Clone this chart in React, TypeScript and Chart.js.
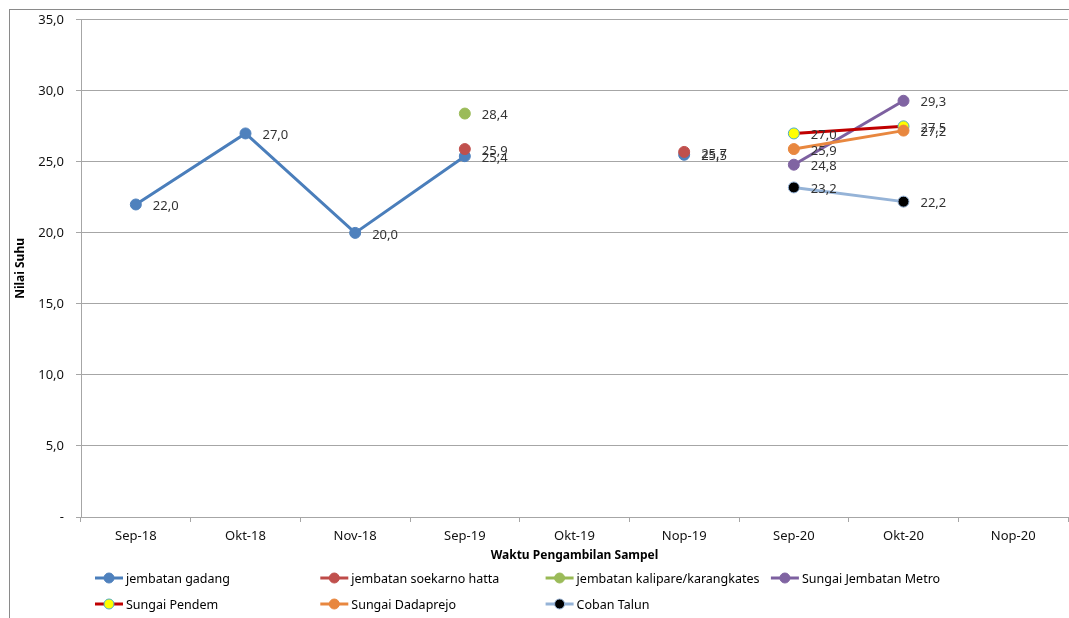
import { useEffect, useRef } from 'react';
import Chart from 'chart.js/auto';

const months = ['Sep-18', 'Okt-18', 'Nov-18', 'Sep-19', 'Okt-19', 'Nop-19', 'Sep-20', 'Okt-20', 'Nop-20'];

const jembatanGadang = [22.0, 27.0, 20.0, 25.4, null, 25.5, null, null, null];
const jembatanSoekarnoHatta = [null, null, null, 25.9, null, 25.7, null, null, null];
const jembatanKalipare = [null, null, null, 28.4, null, null, null, null, null];
const sungaiJembatanMetro = [null, null, null, null, null, null, 24.8, 29.3, null];
const sungaiPendem = [null, null, null, null, null, null, 27.0, 27.5, null];
const sungaiDadaprejo = [null, null, null, null, null, null, 25.9, 27.2, null];
const cobanTalun = [null, null, null, null, null, null, 23.2, 22.2, null];

const yMin = 0;
const yMax = 35;
const yStep = 5;

const FONT = "'Noto Sans', 'DejaVu Sans', sans-serif";
const fmt = (v: number) => (v === 0 ? '-' : v.toFixed(1).replace('.', ','));

// draws the outer frame, axis titles, value labels and the Excel-style legend
const extrasPlugin = {
  id: 'extras',
  afterDraw(chart: any) {
    const { ctx, chartArea } = chart;
    ctx.save();

    // outer frame
    ctx.strokeStyle = '#8a8a8a';
    ctx.lineWidth = 1;
    ctx.strokeRect(9.5, 9.5, chart.width + 20, chart.height + 20);

    // axis titles
    ctx.fillStyle = '#000';
    ctx.font = `bold 12px ${FONT}`;
    ctx.textAlign = 'center';
    ctx.textBaseline = 'middle';
    ctx.fillText('Waktu Pengambilan Sampel', (chartArea.left + chartArea.right) / 2, 556);
    ctx.save();
    ctx.translate(21, (chartArea.top + chartArea.bottom) / 2);
    ctx.rotate(-Math.PI / 2);
    ctx.fillText('Nilai Suhu', 0, 0);
    ctx.restore();

    // value labels
    ctx.font = `13px ${FONT}`;
    ctx.fillStyle = '#333';
    ctx.textAlign = 'left';
    chart.data.datasets.forEach((ds: any, i: number) => {
      const meta = chart.getDatasetMeta(i);
      ds.data.forEach((v: number | null, j: number) => {
        if (v === null) return;
        const pt = meta.data[j];
        ctx.fillText(fmt(v), pt.x + 17, pt.y + 2);
      });
    });

    // legend
    ctx.font = `12.5px ${FONT}`;
    chart.data.datasets.forEach((ds: any, i: number) => {
      const col = i % 4;
      const row = Math.floor(i / 4);
      const x0 = 95 + col * 225.3;
      const y = 578 + row * 26;
      ctx.strokeStyle = ds.borderColor;
      ctx.lineWidth = 3;
      ctx.beginPath();
      ctx.moveTo(x0, y);
      ctx.lineTo(x0 + 28, y);
      ctx.stroke();
      ctx.beginPath();
      ctx.arc(x0 + 14, y, 5, 0, Math.PI * 2);
      ctx.fillStyle = ds.pointBackgroundColor;
      ctx.fill();
      ctx.lineWidth = 1;
      ctx.strokeStyle = ds.pointBorderColor;
      ctx.stroke();
      ctx.fillStyle = '#000';
      ctx.fillText(ds.label, x0 + 31, y + 1);
    });

    ctx.restore();
  },
};

export default function App() {
  const chartRef = useRef<HTMLCanvasElement>(null);
  const chartInstance = useRef<Chart | null>(null);

  useEffect(() => {
    if (!chartRef.current) return;
    if (chartInstance.current) chartInstance.current.destroy();

    const series = [
      { label: 'jembatan gadang', data: jembatanGadang, line: '#4A7EBB', fill: '#4F81BD', edge: '#4F81BD' },
      { label: 'jembatan soekarno hatta', data: jembatanSoekarnoHatta, line: '#BE4B48', fill: '#C0504D', edge: '#C0504D' },
      { label: 'jembatan kalipare/karangkates', data: jembatanKalipare, line: '#98B954', fill: '#9BBB59', edge: '#9BBB59' },
      { label: 'Sungai Jembatan Metro', data: sungaiJembatanMetro, line: '#7D60A0', fill: '#8064A2', edge: '#8064A2' },
      { label: 'Sungai Pendem', data: sungaiPendem, line: '#C00000', fill: '#FFFF00', edge: '#4BACC6' },
      { label: 'Sungai Dadaprejo', data: sungaiDadaprejo, line: '#E8873F', fill: '#E8873F', edge: '#E8873F' },
      { label: 'Coban Talun', data: cobanTalun, line: '#95B3D7', fill: '#000000', edge: '#95B3D7' },
    ];

    chartInstance.current = new Chart(chartRef.current, {
      type: 'line',
      data: {
        labels: months,
        datasets: series.map((s, i) => ({
          label: s.label,
          data: s.data,
          borderColor: s.line,
          backgroundColor: s.fill,
          borderWidth: 3,
          pointRadius: 5.5,
          pointHoverRadius: 5.5,
          pointBackgroundColor: s.fill,
          pointBorderColor: s.edge,
          pointBorderWidth: 1,
          spanGaps: false,
          order: 20 - i,
        })),
      },
      options: {
        animation: false,
        responsive: false,
        layout: { autoPadding: false, padding: { left: 0, top: 19, right: 1, bottom: 0 } },
        plugins: {
          legend: { display: false },
          tooltip: { enabled: false },
        },
        scales: {
          x: {
            offset: true,
            afterFit: (scale: any) => {
              scale.height = 101;
              scale.paddingLeft = 0;
              scale.paddingRight = 0;
            },
            grid: { offset: true, drawOnChartArea: false, drawTicks: true, tickLength: 5, color: '#a6a6a6' },
            border: { color: '#a6a6a6' },
            ticks: { color: '#111', font: { family: FONT, size: 13 }, padding: 6, maxRotation: 0 },
          },
          y: {
            min: yMin,
            max: yMax,
            afterFit: (scale: any) => { scale.width = 81; },
            grid: { color: '#a6a6a6', tickLength: 5 },
            border: { color: '#a6a6a6' },
            ticks: {
              stepSize: yStep,
              color: '#111',
              font: { family: FONT, size: 13 },
              padding: 12,
              callback: (value: any) => fmt(Number(value)),
            },
          },
        },
      },
      plugins: [extrasPlugin],
    });

    return () => {
      if (chartInstance.current) {
        chartInstance.current.destroy();
        chartInstance.current = null;
      }
    };
  }, []);

  return (
    <div style={{ position: 'absolute', left: 0, top: 0, width: 1069, height: 618, background: '#fff' }}>
      <canvas ref={chartRef} width={1069} height={618} style={{ display: 'block' }} />
    </div>
  );
}
